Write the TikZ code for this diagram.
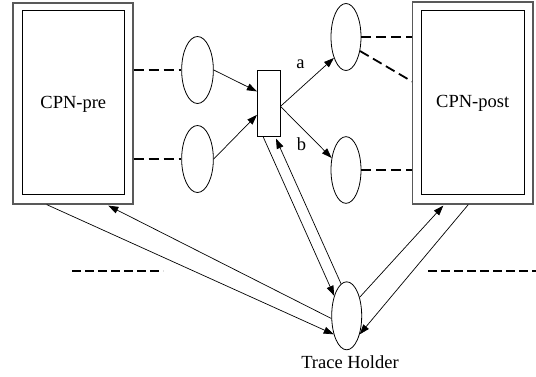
\documentclass[tikz,border=0pt]{standalone}
\usepackage{fontspec}
\setmainfont{Liberation Serif}
\usetikzlibrary{shapes.geometric,arrows.meta,calc}
\begin{document}
\begin{tikzpicture}[x=1pt,y=-1pt,
  every node/.style={font=\fontsize{18.5}{20}\selectfont},
  place/.style={draw, ellipse, line width=0.8pt, minimum width=30pt,
    minimum height=67pt, inner sep=0pt},
  trans/.style={draw, rectangle, line width=0.8pt, minimum width=22.7pt,
    minimum height=66.7pt, inner sep=0pt},
  frame/.style={draw=black!65, line width=1.2pt, rectangle, inner sep=0pt},
  innerbox/.style={draw, rectangle, line width=0.8pt, inner sep=0pt},
  arc/.style={line width=0.7pt, -{Triangle[length=10pt,width=7pt]}},
  link/.style={line width=1.8pt, dash pattern=on 10pt off 5pt},
  sep/.style={line width=1.8pt, dash pattern=on 9pt off 4pt},
]
\useasboundingbox (0,0) rectangle (536,376);

% sub-nets
\node[frame, minimum width=120pt, minimum height=201pt] (pre) at (73,103.5) {};
\node[innerbox, minimum width=102pt, minimum height=183.5pt] (prein) at (73.7,102.5) {};
\node (pretxt) at (73.3,104) {CPN-pre};

\node[frame, minimum width=120.3pt, minimum height=202pt] (post) at (472.8,103) {};
\node[innerbox, minimum width=103pt, minimum height=183.5pt] (postin) at (472.8,102.3) {};
\node (posttxt) at (472.7,103) {CPN-post};

% places and transition
\node[place, minimum width=31.7pt] (p1) at (197.5,70) {};
\node[place, minimum width=31.7pt] (p2) at (197.5,159) {};
\node[trans] (t) at (268.7,103.4) {};
\node[place] (q1) at (346,37) {};
\node[place, minimum height=66.7pt] (q2) at (346,170) {};
\node[place, minimum height=68pt] (th) at (346.7,315.8) {};
\node (thtxt) at (350,362) {Trace Holder};

% fusion links to the sub-nets
\draw[link] (pre.east |- p1.west) -- (p1.west);
\draw[link] (pre.east |- p2.west) -- (p2.west);
\draw[link] (q1.east) -- (q1.east -| post.west);
\draw[link] (q1.-45) -- ($(post.west)+(0,-21.5)$);
\draw[link] (q2.east) -- (q2.east -| post.west);

% arcs of the transition
\draw[arc] (p1.east) -- ($(t.west)+(0,-12)$);
\draw[arc] (p2.east) -- ($(t.west)+(0,11.5)$);
\draw[arc] ($(t.east)+(0,3)$) -- (q1.240);
\draw[arc] ($(t.east)+(0,3)$) -- (q2.140);
\node (la) at (300.5,64) {a};
\node (lb) at (301.5,144) {b};

% trace holder arcs
\draw[arc] ($(t.south)+(-5.4,0)$) -- (th.122);
\draw[arc] (th.100) -- ($(t.south)+(7.3,1.5)$);
\draw[arc] ($(pre.south)+(-26.3,0)$) -- (th.235);
\draw[arc] (th.190) -- ($(pre.south)+(35.3,1)$);
\draw[arc] (th.55) -- ($(post.south)+(-29.5,1)$);
\draw[arc] ($(post.south)+(-4.5,0)$) -- (th.305);

% separators
\coordinate (sl1) at (72,271);
\coordinate (sl2) at (163,271);
\coordinate (sr1) at (428,271);
\coordinate (sr2) at (536,271);
\draw[sep] (sl1) -- (sl2);
\draw[sep] (sr1) -- (sr2);
\end{tikzpicture}
\end{document}
